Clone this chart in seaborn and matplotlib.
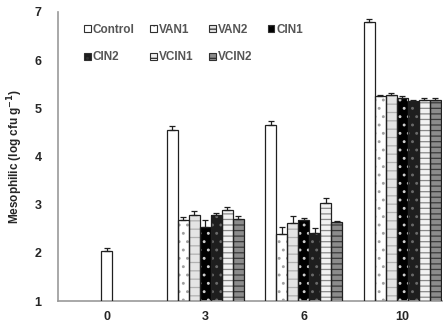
import numpy as np
import pandas as pd
import matplotlib
matplotlib.use("Agg")
import matplotlib.pyplot as plt
import seaborn as sns
from matplotlib.patches import Patch

days = ["0", "3", "6", "10"]
treatments = ["Control", "VAN1", "VAN2", "CIN1", "CIN2", "VCIN1", "VCIN2"]

# day 0: only the control was measured
control_day0 = 2.04
control_day0_err = 0.07

# days 3, 6, 10 for every treatment
later_days = ["3", "6", "10"]
values = {
    "Control": [4.54, 4.65, 6.79],
    "VAN1":    [2.69, 2.40, 5.25],
    "VAN2":    [2.79, 2.62, 5.28],
    "CIN1":    [2.53, 2.68, 5.22],
    "CIN2":    [2.78, 2.42, 5.15],
    "VCIN1":   [2.88, 3.03, 5.17],
    "VCIN2":   [2.71, 2.64, 5.17],
}
errors = {
    "Control": [0.10, 0.08, 0.06],
    "VAN1":    [0.05, 0.14, 0.03],
    "VAN2":    [0.08, 0.15, 0.04],
    "CIN1":    [0.15, 0.05, 0.03],
    "CIN2":    [0.04, 0.10, 0.03],
    "VCIN1":   [0.08, 0.10, 0.04],
    "VCIN2":   [0.06, 0.03, 0.04],
}

fills = {"Control": "white", "VAN1": "white", "VAN2": "#e4e4e4", "CIN1": "black",
         "CIN2": "#1e1e1e", "VCIN1": "#f2f2f2", "VCIN2": "#8c8c8c"}
hatches = {"Control": "", "VAN1": "..", "VAN2": "--", "CIN1": "..",
           "CIN2": "..", "VCIN1": "---", "VCIN2": "---"}
hatch_cols = {"Control": "black", "VAN1": "#a0a0a0", "VAN2": "#b0b0b0", "CIN1": "#cfcfcf",
              "CIN2": "#6a6a6a", "VCIN1": "#8a8a8a", "VCIN2": "#3a3a3a"}

sns.set_theme(style="white")
plt.rcParams["font.family"] = ["Liberation Sans", "DejaVu Sans"]
plt.rcParams["hatch.linewidth"] = 0.9

rows = []
for t in treatments:
    for d, v in zip(later_days, values[t]):
        rows.append({"day": d, "treatment": t, "value": v})
df = pd.DataFrame(rows)
df0 = pd.DataFrame({"day": ["0"], "value": [control_day0]})

fig = plt.figure(figsize=(4.44, 3.23), dpi=100)
ax = fig.add_axes([0.131, 0.068, 0.864, 0.895])

group_width = 0.78
bar_w = group_width / len(treatments)

sns.barplot(data=df0, x="day", y="value", order=days, width=bar_w,
            color="white", errorbar=None, ax=ax)
n0 = len(ax.patches)
sns.barplot(data=df, x="day", y="value", hue="treatment", order=days,
            hue_order=treatments, palette=fills, width=group_width,
            errorbar=None, legend=False, saturation=1, ax=ax)

bars = []  # (patch, treatment, err)
bars.append((ax.patches[0], "Control", control_day0_err))
later = [p for p in ax.patches[n0:] if p.get_height() > 0]
i = 0
for t in treatments:
    for j in range(len(later_days)):
        bars.append((later[i], t, errors[t][j]))
        i += 1

for p, t, e in bars:
    p.set_facecolor(fills[t])
    p.set_hatch(hatches[t])
    p.set_edgecolor(hatch_cols[t])
    p.set_linewidth(0)
    # black outline on top
    ax.bar(p.get_x(), p.get_height(), width=p.get_width(), align="edge",
           fill=False, edgecolor="#202020", linewidth=0.9, zorder=3)
    cx = p.get_x() + p.get_width() / 2
    ax.errorbar(cx, p.get_height(), yerr=[[0], [e]], fmt="none", ecolor="#202020",
                elinewidth=0.9, capsize=2, capthick=0.9, zorder=4)

ax.set_ylim(1, 7)
ax.set_xlim(-0.495, 3.4)
ax.set_yticks(range(1, 8))
ax.set_yticklabels([str(v) for v in range(1, 8)], fontweight="bold", fontsize=9)
ax.set_xticks(range(len(days)))
ax.set_xticklabels(days, fontweight="bold", fontsize=9)
ax.set_xticks([0.5, 1.5, 2.5], minor=True)
ax.tick_params(axis="x", which="major", length=0, pad=7)
ax.tick_params(axis="x", which="minor", length=3, color="#999999", direction="out")
ax.tick_params(axis="y", length=3, color="#999999", direction="out", pad=9)
ax.set_xlabel("")
ax.set_ylabel("Mesophilic (log cfu g$^{\\mathbf{-1}}$)", fontweight="bold", fontsize=8.5, labelpad=7)

for s in ["top", "right"]:
    ax.spines[s].set_visible(False)
for s in ["left", "bottom"]:
    ax.spines[s].set_color("#999999")
    ax.spines[s].set_linewidth(1.2)

# legend: row 1 Control VAN1 VAN2 CIN1, row 2 CIN2 VCIN1 VCIN2
handles = {t: Patch(facecolor=fills[t], edgecolor="#303030", hatch=hatches[t], linewidth=0.8)
           for t in treatments}
order = ["Control", "CIN2", "VAN1", "VCIN1", "VAN2", "VCIN2", "CIN1"]
leg = ax.legend([handles[t] for t in order], order, ncol=4, loc="upper left",
                bbox_to_anchor=(0.04, 0.995), frameon=False,
                prop={"size": 8.5, "weight": "bold"},
                handlelength=0.55, handleheight=0.55, handletextpad=0.2,
                columnspacing=1.3, labelspacing=1.3)
for txt in leg.get_texts():
    txt.set_color("#555555")

fig.savefig("out.png", dpi=100)
